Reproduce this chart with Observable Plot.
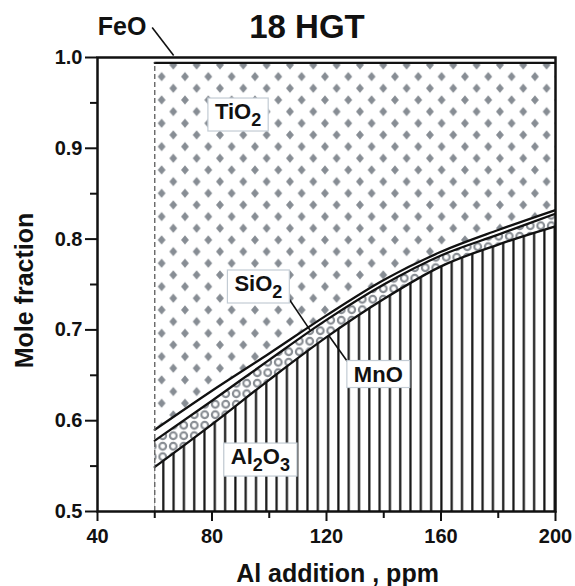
<!DOCTYPE html>
<html><head><meta charset="utf-8">
<script src="https://cdn.jsdelivr.net/npm/d3@7"></script>
<script src="https://cdn.jsdelivr.net/npm/@observablehq/plot@0.6"></script>
<style>body{margin:0;background:#fff}#chart{width:575px;height:586px}</style>
</head><body><div id="chart"></div>
<script>
// ---- data ----
const title = "18 HGT";
const xTitle = "Al addition , ppm";
const yTitle = "Mole fraction";
const alAddition = [60, 80, 100, 120, 140, 160, 180, 200];
const Al2O3 = [0.549, 0.596, 0.645, 0.692, 0.734, 0.770, 0.794, 0.814];
const MnO   = [0.029, 0.026, 0.022, 0.019, 0.016, 0.012, 0.011, 0.014];
const SiO2  = [0.012, 0.011, 0.007, 0.005, 0.005, 0.004, 0.005, 0.004];
const TiO2  = [0.404, 0.361, 0.320, 0.278, 0.239, 0.208, 0.184, 0.162];
const FeO   = [0.006, 0.006, 0.006, 0.006, 0.006, 0.006, 0.006, 0.006];
const speciesNames = ["Al2O3", "MnO", "SiO2", "TiO2", "FeO"];
const xTicks = [40, 80, 120, 160, 200];
const xMinorTicks = [60, 100, 140, 180];
const yTicks = [0.5, 0.6, 0.7, 0.8, 0.9, 1.0];
const yMinorTicks = [0.55, 0.65, 0.75, 0.85, 0.95];
const labelNames = ["TiO2", "SiO2", "MnO", "Al2O3"];
const labelX = [89.1, 96.2, 138.1, 96.9];
const labelY = [0.940, 0.7506, 0.6509, 0.560];
const feoLabelX = [48.6];
const feoLabelY = [1.0336];
const pointerX1 = [59.1, 106.5, 127.3];
const pointerY1 = [1.0331, 0.736, 0.6652];
const pointerX2 = [66.6, 114.2, 120.8];
const pointerY2 = [1.0022, 0.700, 0.6938];

// ---- build tables ----
const fractions = {Al2O3, MnO, SiO2, TiO2, FeO};
const rows = [];
alAddition.forEach((x, i) => {
  let base = 0;
  for (const s of speciesNames) {
    const top = base + fractions[s][i];
    rows.push({x, species: s, y1: base, y2: top});
    base = top;
  }
});
const fills = {Al2O3: "url(#hatch)", MnO: "url(#rings)", SiO2: "#ffffff", TiO2: "url(#diamonds)", FeO: "#ffffff"};
const labels = labelNames.map((name, i) => ({name, x: labelX[i], y: labelY[i]}));
const pointers = pointerX1.map((x1, i) => ({x1, y1: pointerY1[i], x2: pointerX2[i], y2: pointerY2[i]}));
const tioTopFirst = rows.filter(d => d.species === "TiO2")[0];
const curve = "monotone-x";
const bold = "bold";

const svg = Plot.plot({
  width: 575, height: 586,
  marginLeft: 97, marginRight: 20, marginTop: 57, marginBottom: 75,
  style: {fontFamily: "'Liberation Sans', Arial, sans-serif", color: "#111", background: "#fff"},
  x: {domain: [40, 200], label: null},
  y: {domain: [0.5, 1.0], label: null},
  marks: [
    ...speciesNames.map(s => Plot.areaY(rows.filter(d => d.species === s),
      {x: "x", y1: "y1", y2: "y2", fill: fills[s], curve, clip: true})),
    Plot.lineY(rows.filter(d => d.species !== "FeO"),
      {x: "x", y: "y2", z: "species", stroke: "#111", strokeWidth: 2.3, curve, clip: true}),
    Plot.ruleX([tioTopFirst], {x: "x", y1: 0.5, y2: "y2", stroke: "#666", strokeWidth: 1.4, strokeDasharray: "5,3"}),
    Plot.link(pointers, {x1: "x1", y1: "y1", x2: "x2", y2: "y2", stroke: "#111", strokeWidth: 1.6}),
    Plot.text(labels, {x: "x", y: "y", text: "name", fontSize: 22, fontWeight: bold, lineAnchor: "middle", fill: "#111", ariaDescription: "species labels"}),
    Plot.text(feoLabelX.map((x, i) => ({x, y: feoLabelY[i]})), {x: "x", y: "y", text: () => "FeO", fontSize: 25, fontWeight: bold, lineAnchor: "middle", fill: "#111"}),
    Plot.axisX(xTicks, {tickSize: 10, tickPadding: 7, tickFormat: "d", fontSize: 20, fontWeight: bold, strokeWidth: 2, label: null}),
    Plot.axisX(xMinorTicks, {tickSize: 7, tickFormat: () => "", strokeWidth: 2, label: null}),
    Plot.axisY(yTicks, {tickSize: 12, tickPadding: 3, tickFormat: ".1f", fontSize: 20, fontWeight: bold, strokeWidth: 2, label: null}),
    Plot.axisY(yMinorTicks, {tickSize: 7, tickFormat: () => "", strokeWidth: 2, label: null}),
    Plot.frame({stroke: "#111", strokeWidth: 2.5}),
    Plot.text([title], {frameAnchor: "top", dx: -19.5, dy: -30, text: d => d, fontSize: 33, fontWeight: bold, lineAnchor: "middle", fill: "#111"}),
    Plot.text([xTitle], {frameAnchor: "bottom", dx: 11, dy: 62, text: d => d, fontSize: 25, fontWeight: bold, lineAnchor: "middle", fill: "#111"}),
    Plot.text([yTitle], {frameAnchor: "left", textAnchor: "middle", dx: -73, dy: 6, rotate: -90, text: d => d, fontSize: 25, fontWeight: bold, lineAnchor: "middle", fill: "#111"})
  ]
});

// ---- fill patterns ----
const ns = "http://www.w3.org/2000/svg";
const dw = 23.33, dh = 23.33, rx = 3.9, ry = 4.7;
const diamond = (cx, cy) => `M${cx},${cy - ry}L${cx + rx},${cy}L${cx},${cy + ry}L${cx - rx},${cy}Z`;
const dpath = [[0,0],[dw,0],[0,dh],[dw,dh],[dw/2,dh/2]].map(([a,b]) => diamond(a,b)).join("");
const defs = document.createElementNS(ns, "defs");
defs.innerHTML = `
<pattern id="diamonds" patternUnits="userSpaceOnUse" x="10" y="18.3" width="${dw}" height="${dh}">
  <rect width="${dw}" height="${dh}" fill="#fff"/>
  <path d="${dpath}" fill="#878d94"/>
</pattern>
<pattern id="rings" patternUnits="userSpaceOnUse" x="0" y="0" width="10.5" height="10.5">
  <rect width="10.5" height="10.5" fill="#fff"/>
  <circle cx="5.25" cy="5.25" r="3.4" fill="none" stroke="#868b91" stroke-width="2.1"/>
</pattern>
<pattern id="hatch" patternUnits="userSpaceOnUse" x="0" y="0" width="10.3" height="10">
  <rect width="10.3" height="10" fill="#fff"/>
  <line x1="8.8" y1="-1" x2="8.8" y2="11" stroke="#151515" stroke-width="2.2"/>
</pattern>`;
svg.insertBefore(defs, svg.firstChild);
document.getElementById("chart").append(svg);

// ---- subscripts and label boxes ----
const shift = 7, subSize = 18;
svg.querySelectorAll('g[aria-description="species labels"] text').forEach(t => {
  const s = t.textContent;
  t.textContent = "";
  let sub = false;
  for (const r of s.match(/\d+|\D+/g)) {
    const ts = document.createElementNS(ns, "tspan");
    const dig = /\d/.test(r);
    if (dig && !sub) ts.setAttribute("dy", shift);
    if (!dig && sub) ts.setAttribute("dy", -shift);
    if (dig) ts.setAttribute("font-size", subSize);
    ts.textContent = r;
    t.append(ts);
    sub = dig;
  }
  const b = t.getBBox();
  const rect = document.createElementNS(ns, "rect");
  rect.setAttribute("x", b.x - 7);
  rect.setAttribute("y", b.y - 1);
  rect.setAttribute("width", b.width + 14);
  rect.setAttribute("height", b.height + 2);
  rect.setAttribute("fill", "#fff");
  rect.setAttribute("stroke", "#c3ccd4");
  rect.setAttribute("stroke-width", 1.2);
  if (t.getAttribute("transform")) rect.setAttribute("transform", t.getAttribute("transform"));
  t.parentNode.insertBefore(rect, t);
});
</script>
</body></html>
